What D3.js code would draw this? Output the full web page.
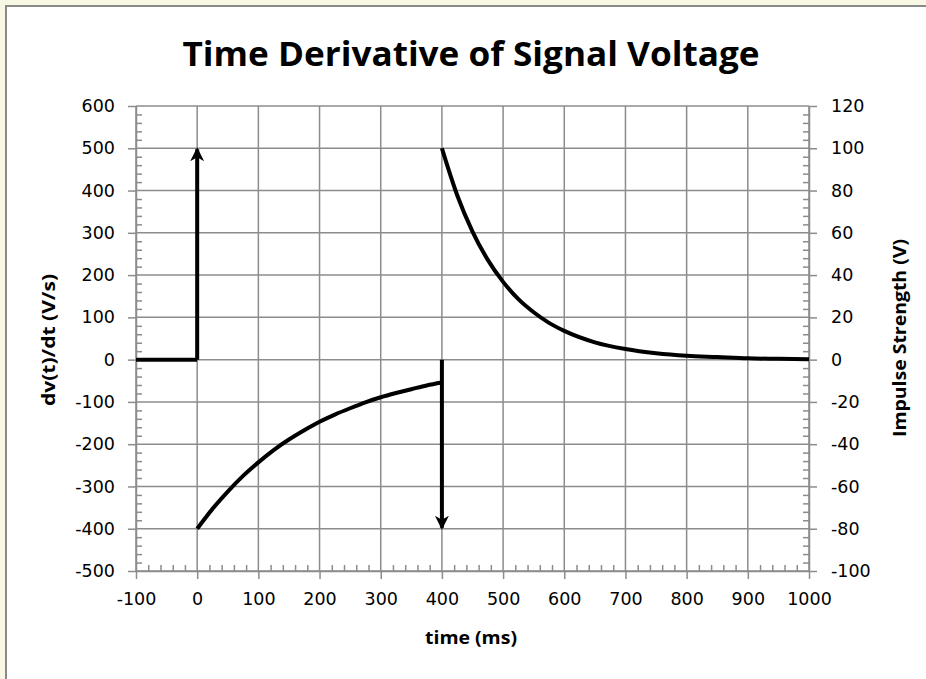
<!DOCTYPE html>
<html><head><meta charset="utf-8">
<script src="https://cdn.jsdelivr.net/npm/d3@7"></script>
<style>
html,body{margin:0;padding:0;background:#f7f7e4;}
svg{display:block;}
</style></head>
<body>
<svg id="c" width="926" height="679"></svg>
<script>
// ---- data ----
const baselineT = [-100, 0];
const baselineV = [0, 0];
const decay1T = [0,25,50,75,100,125,150,175,200,225,250,275,300,325,350,375,400];
const decay1V = [-400,-353,-312,-275,-243,-214,-189,-167,-147,-130,-115,-101,-89,-79,-70,-61,-54];
const decay2T = [400,425,450,475,500,525,550,575,600,650,700,750,800,850,900,950,1000];
const decay2V = [500,389,303,236,184,143,112,87,68,41,25,15,9,6,3,2,1];
const impulseT = [0, 400];
const impulseV = [100, -80];   // right axis (V)
const xTicks = [-100,0,100,200,300,400,500,600,700,800,900,1000];
const yLeftTicks = [600,500,400,300,200,100,0,-100,-200,-300,-400,-500];
const yRightTicks = [120,100,80,60,40,20,0,-20,-40,-60,-80,-100];
const title = "Time Derivative of Signal Voltage";
const xTitle = "time (ms)";
const yLeftTitle = "dv(t)/dt (V/s)";
const yRightTitle = "Impulse Strength (V)";

const svg = d3.select("#c");
svg.append("rect").attr("x",6).attr("y",6).attr("width",926).attr("height",679)
  .attr("fill","#fff").attr("stroke","#8a8a8a").attr("stroke-width",2);

const L=136, R=809, T=106, B=571;
const x = d3.scaleLinear().domain([-100,1000]).range([L,R]);
const yL = d3.scaleLinear().domain([-500,600]).range([B,T]);
const yR = d3.scaleLinear().domain([-100,120]).range([B,T]);
const grid = "#8c8c8c";
const fmt = d => String(d);

const g = svg.append("g");
g.selectAll(".gx").data(xTicks).join("line")
  .attr("x1",d=>x(d)).attr("x2",d=>x(d)).attr("y1",T).attr("y2",B)
  .attr("stroke",grid).attr("stroke-width",1.5);
g.selectAll(".gy").data(yLeftTicks).join("line")
  .attr("x1",L).attr("x2",R).attr("y1",d=>yL(d)).attr("y2",d=>yL(d))
  .attr("stroke",grid).attr("stroke-width",1.5);

const fontTick = "'DejaVu Sans', Verdana, sans-serif";
function styleAxis(sel){
  sel.selectAll("path.domain").attr("stroke",grid).attr("stroke-width",1.5);
  sel.selectAll(".tick line").attr("stroke",grid).attr("stroke-width",1.5);
  sel.selectAll("text").attr("font-family",fontTick).attr("font-size",17.5).attr("fill","#000");
}
const xMinor = d3.range(-100,1000.1,20).filter(v=>xTicks.indexOf(Math.round(v))<0);
const yLMinor = d3.range(-500,600.1,20).filter(v=>yLeftTicks.indexOf(Math.round(v))<0);
const yRMinor = d3.range(-100,120.1,4).filter(v=>yRightTicks.indexOf(Math.round(v))<0);
const minorStyle = s=>{s.select(".domain").remove();s.selectAll("line").attr("stroke",grid).attr("stroke-width",1.5);};

const gxA = svg.append("g").attr("transform",`translate(0,${B})`)
  .call(d3.axisBottom(x).tickValues(xTicks).tickSize(8).tickSizeOuter(0).tickPadding(14).tickFormat(fmt));
styleAxis(gxA);
svg.append("g").attr("transform",`translate(0,${B})`)
  .call(d3.axisTop(x).tickValues(xMinor).tickSize(6).tickFormat("")).call(minorStyle);

const gyL = svg.append("g").attr("transform",`translate(${L},0)`)
  .call(d3.axisLeft(yL).tickValues(yLeftTicks).tickSize(8).tickSizeOuter(0).tickPadding(13).tickFormat(fmt));
styleAxis(gyL);
svg.append("g").attr("transform",`translate(${L},0)`)
  .call(d3.axisRight(yL).tickValues(yLMinor).tickSize(6).tickFormat("")).call(minorStyle);

const gyR = svg.append("g").attr("transform",`translate(${R},0)`)
  .call(d3.axisRight(yR).tickValues(yRightTicks).tickSize(8).tickSizeOuter(0).tickPadding(14).tickFormat(fmt));
styleAxis(gyR);
svg.append("g").attr("transform",`translate(${R},0)`)
  .call(d3.axisLeft(yR).tickValues(yRMinor).tickSize(6).tickFormat("")).call(minorStyle);

const defs = svg.append("defs");
defs.append("marker").attr("id","arr").attr("viewBox","0 0 14 14").attr("refX",12).attr("refY",7)
  .attr("markerWidth",14).attr("markerHeight",14).attr("markerUnits","userSpaceOnUse").attr("orient","auto")
  .append("path").attr("d","M0,0 L14,7 L0,14 L4,7 Z").attr("fill","#000");

const line = d3.line().x(d=>x(d[0])).y(d=>yL(d[1])).curve(d3.curveMonotoneX);
const series = [d3.zip(baselineT,baselineV), d3.zip(decay1T,decay1V), d3.zip(decay2T,decay2V)];
svg.selectAll(".s").data(series).join("path").attr("d",line)
  .attr("fill","none").attr("stroke","#000").attr("stroke-width",4).attr("stroke-linejoin","round");

svg.selectAll(".imp").data(d3.zip(impulseT,impulseV)).join("line")
  .attr("x1",d=>x(d[0])).attr("x2",d=>x(d[0]))
  .attr("y1",yR(0)).attr("y2",d=>yR(d[1]) + (d[1]>0?1:-1))
  .attr("stroke","#000").attr("stroke-width",4).attr("marker-end","url(#arr)");

const fontTitle = "'Liberation Sans Narrow', 'Open Sans', 'Noto Sans', sans-serif";
const fontAx = "'Open Sans', 'Noto Sans', sans-serif";
svg.append("text").attr("x",471).attr("y",66).attr("text-anchor","middle")
  .attr("font-family",fontTitle).attr("font-weight","bold").attr("font-size",34)
  .attr("textLength",577).attr("lengthAdjust","spacingAndGlyphs").text(title);
svg.append("text").attr("x",471).attr("y",644).attr("text-anchor","middle")
  .attr("font-family",fontAx).attr("font-weight","bold").attr("font-size",18)
  .attr("textLength",92).attr("lengthAdjust","spacingAndGlyphs").text(xTitle);
svg.append("text").attr("transform","translate(55,340) rotate(-90)").attr("text-anchor","middle")
  .attr("font-family",fontAx).attr("font-weight","bold").attr("font-size",18)
  .attr("textLength",132).attr("lengthAdjust","spacingAndGlyphs").text(yLeftTitle);
svg.append("text").attr("transform","translate(906,338) rotate(-90)").attr("text-anchor","middle")
  .attr("font-family",fontAx).attr("font-weight","bold").attr("font-size",18)
  .attr("textLength",198).attr("lengthAdjust","spacingAndGlyphs").text(yRightTitle);
</script>
</body></html>
